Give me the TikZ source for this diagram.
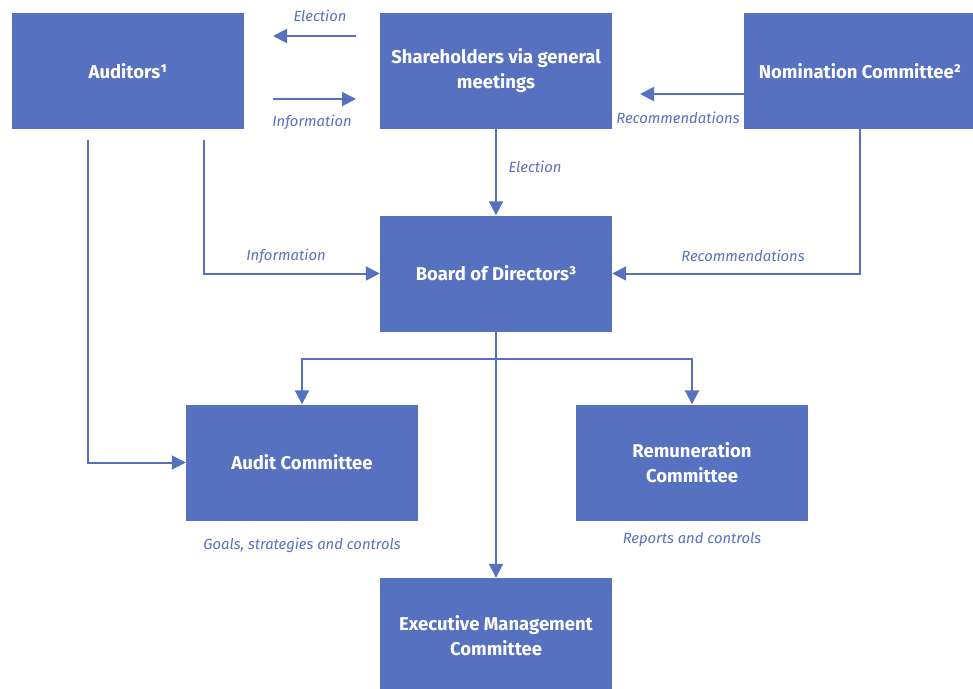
\documentclass[tikz,border=0pt]{standalone}
\usepackage{fontspec}
\setmainfont{Fira Sans}
\usetikzlibrary{arrows.meta}
\definecolor{boxblue}{RGB}{86,113,192}

\begin{document}
\begin{tikzpicture}[x=1pt,y=-1pt,
    org/.style={rectangle,fill=boxblue,minimum width=232pt,minimum height=116pt,
      inner sep=2pt,align=center,text=white,font=\fontsize{18.5}{25}\selectfont\bfseries},
    lab/.style={text=boxblue,font=\fontsize{14.8}{17}\selectfont\itshape},
    flow/.style={draw=boxblue,line width=2pt,-{Triangle[length=14pt,width=14pt]}}]

  \clip (0,0) rectangle (973,688);

  % boxes
  \node[org] (aud) at (128,71) {Auditors¹};
  \node[org] (sha) at (496,71) {Shareholders via general\\meetings};
  \node[org] (nom) at (860,71) {Nomination Committee²};
  \node[org] (bod) at (496,273.5) {Board of Directors³};
  \node[org] (acm) at (302,462.5) {Audit Committee};
  \node[org] (rem) at (692,462.5) {Remuneration\\Committee};
  \node[org] (exe) at (496,636) {Executive Management\\Committee};

  % free ends of the arrows
  \coordinate (el1) at (356,36);
  \coordinate (el2) at (273,36);
  \coordinate (in1) at (273,99);
  \coordinate (in2) at (356,99);
  \coordinate (re1) at (749,94);
  \coordinate (re2) at (640,94);
  \coordinate (ai) at (204,140);
  \coordinate (al) at (88,140);
  \coordinate (br) at (496,359);

  \draw[flow] (el1) -- (el2);
  \draw[flow] (in1) -- (in2);
  \draw[flow] (re1) -- (re2);
  \draw[flow] (sha) -- (bod);
  \draw[flow] (ai) |- (bod);
  \draw[flow] (nom) |- (bod);
  \draw[flow] (al) |- (acm);
  \draw[flow] (bod) -- (exe);
  \draw[flow] (br) -| (acm);
  \draw[flow] (br) -| (rem);

  % labels
  \node[lab] (l1) at (320,16) {Election};
  \node[lab] (l2) at (312,122) {Information};
  \node[lab] (l3) at (678,118) {Recommendations};
  \node[lab] (l4) at (535,167) {Election};
  \node[lab] (l5) at (286,256) {Information};
  \node[lab] (l6) at (743,256) {Recommendations};
  \node[lab] (l7) at (302,545) {Goals, strategies and controls};
  \node[lab] (l8) at (692,540) {Reports and controls};

\end{tikzpicture}
\end{document}
